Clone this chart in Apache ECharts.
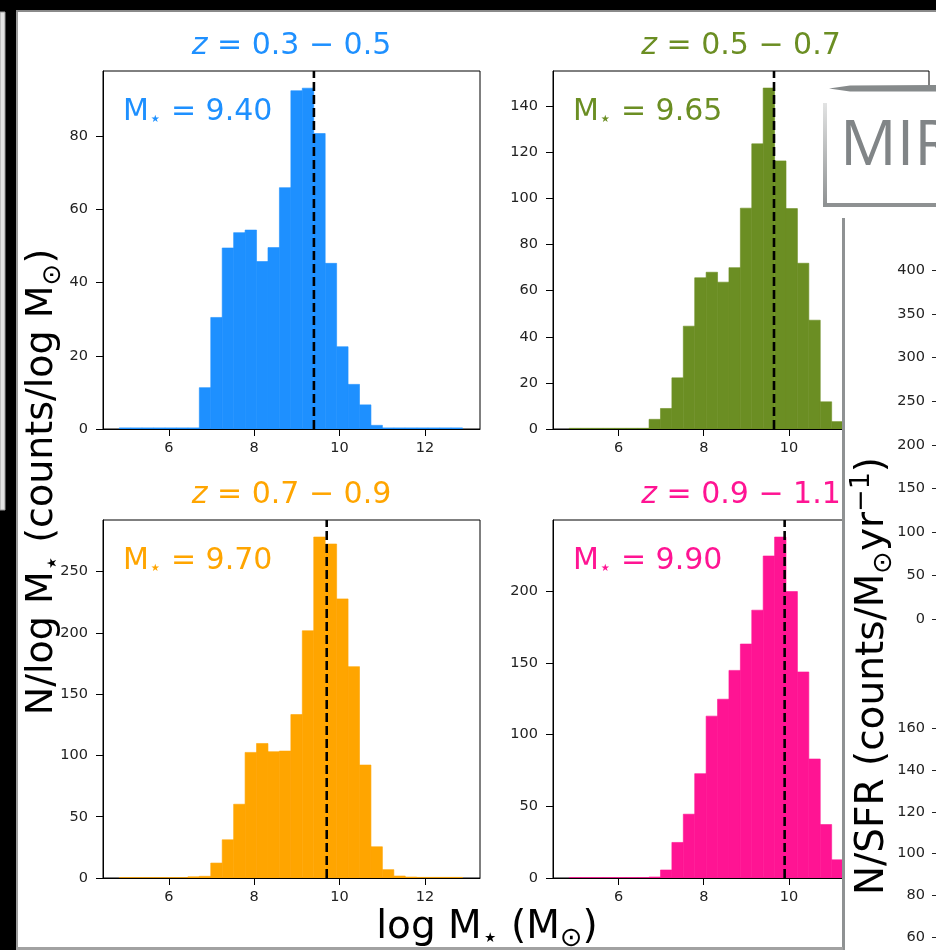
<!DOCTYPE html>
<html>
<head>
<meta charset="utf-8">
<script src="https://cdn.jsdelivr.net/npm/echarts@6/dist/echarts.min.js"></script>
<style>
  html, body { margin: 0; padding: 0; background: #ffffff; }
  #chart { width: 936px; height: 950px; }
</style>
</head>
<body>
<div id="chart"></div>
<script>
// Histogram bin edges in log stellar mass (30 bins)
const binEdges = [4.840, 5.108, 5.376, 5.644, 5.912, 6.180, 6.448, 6.716, 6.984, 7.252,
                  7.520, 7.788, 8.056, 8.324, 8.592, 8.860, 9.128, 9.396, 9.664, 9.932,
                  10.200, 10.468, 10.736, 11.004, 11.272, 11.540, 11.808, 12.076, 12.344, 12.612, 12.880];

// Counts per bin for each redshift slice
const countsZ03 = [0.3, 0.3, 0.3, 0.3, 0.3, 0.3, 0.3, 11.3, 30.5, 49.5,
                   53.7, 54.4, 45.8, 49.6, 66.0, 92.5, 93.2, 80.8, 45.3, 22.5,
                   12.2, 6.6, 1.0, 0.3, 0.3, 0.3, 0.3, 0.3, 0.3, 0.3];
const countsZ05 = [0.3, 0.3, 0.3, 0.3, 0.3, 0.3, 0.3, 4.2, 8.9, 22.2,
                   44.6, 65.6, 68.0, 63.7, 70.0, 95.8, 123.7, 147.9, 116.3, 95.6,
                   71.9, 47.2, 11.8, 3.2, 1.0, 0.5, 0.3, 0.3, 0.3, 0.3];
const countsZ07 = [0.3, 0.3, 0.3, 0.3, 0.3, 0.3, 1.0, 1.4, 12.2, 31.2,
                   60.2, 102.5, 109.8, 103.1, 103.6, 133.4, 201.8, 278.3, 272.6, 227.8,
                   172.5, 92.2, 25.5, 6.8, 1.6, 0.8, 0.5, 0.5, 0.5, 0.5];
const countsZ09 = [0.3, 0.3, 0.3, 0.3, 0.3, 0.3, 0.3, 0.7, 5.6, 24.8,
                   44.5, 72.8, 112.9, 124.7, 144.8, 163.2, 186.8, 224.6, 237.8, 199.8,
                   143.7, 83.0, 37.3, 12.7, 4.0, 1.2, 0.3, 0.3, 0.3, 0.3];

// Median stellar mass per slice
const medianMass = [9.40, 9.65, 9.70, 9.90];
const zLow = ['0.3', '0.5', '0.7', '0.9'];
const zHigh = ['0.5', '0.7', '0.9', '1.1'];

// Tick labels
const massTicks = [6, 8, 10, 12];
const countTicks = [
  [0, 20, 40, 60, 80],
  [0, 20, 40, 60, 80, 100, 120, 140],
  [0, 50, 100, 150, 200, 250],
  [0, 50, 100, 150, 200]
];
const countMax = [97.9, 155.3, 292.2, 249.7];
const sfrTicksUpper = [0, 50, 100, 150, 200, 250, 300, 350, 400];
const sfrTicksLower = [60, 80, 100, 120, 140, 160];

const FONT = 'DejaVu Sans';
const TICK_COLOR = '#222222';
const colors = ['#1E90FF', '#6B8E23', '#FFA500', '#FF1493'];
const counts = [countsZ03, countsZ05, countsZ07, countsZ09];

const panelBoxes = [
  { left: 103, top: 71, width: 377, height: 358 },
  { left: 553, top: 71, width: 376, height: 358 },
  { left: 103, top: 520, width: 377, height: 358 },
  { left: 553, top: 520, width: 376, height: 358 }
];
const sfrBoxes = [
  { left: 937, top: 270.5, width: 200, height: 348.8 },
  { left: 937, top: 728.3, width: 200, height: 209 }
];

function histItem(color) {
  return function (params, api) {
    const lo = api.value(0), hi = api.value(1), n = api.value(2);
    const pTop = api.coord([lo, n]);
    const pBot = api.coord([hi, 0]);
    return {
      type: 'rect',
      shape: { x: pTop[0], y: pTop[1], width: pBot[0] - pTop[0], height: pBot[1] - pTop[1] },
      style: { fill: color, stroke: color, lineWidth: 0.6 }
    };
  };
}

const grid = [], xAxis = [], yAxis = [], series = [], graphic = [];

panelBoxes.forEach(function (b, i) {
  grid.push(Object.assign({ show: true, borderColor: '#000', borderWidth: 1, backgroundColor: 'transparent',
    containLabel: false, outerBoundsMode: 'none' }, b));
  xAxis.push({
    type: 'value', gridIndex: i, min: 4.46, max: 13.29,
    axisLine: { show: true, onZero: false, lineStyle: { color: '#000', width: 1 } },
    axisTick: { show: true, customValues: massTicks, length: 7, lineStyle: { color: '#000', width: 1 } },
    axisLabel: { customValues: massTicks, fontFamily: FONT, fontSize: 14.5, color: TICK_COLOR, margin: 12 },
    splitLine: { show: false }
  });
  yAxis.push({
    type: 'value', gridIndex: i, min: 0, max: countMax[i],
    axisLine: { show: true, onZero: false, lineStyle: { color: '#000', width: 1 } },
    axisTick: { show: true, customValues: countTicks[i], length: 7, lineStyle: { color: '#000', width: 1 } },
    axisLabel: { customValues: countTicks[i], fontFamily: FONT, fontSize: 14.5, color: TICK_COLOR, margin: 15 },
    splitLine: { show: false }
  });
  series.push({
    type: 'custom', xAxisIndex: i, yAxisIndex: i, clip: true, silent: true,
    renderItem: histItem(colors[i]),
    encode: { x: [0, 1], y: 2 },
    data: counts[i].map(function (c, k) { return [binEdges[k], binEdges[k + 1], c]; }),
    z: 2
  });
  series.push({
    type: 'line', xAxisIndex: i, yAxisIndex: i, silent: true, symbol: 'none',
    data: [[medianMass[i], 0], [medianMass[i], countMax[i]]],
    lineStyle: { color: '#000', width: 2.6, type: [9, 4] },
    z: 5
  });

  const cx = b.left + b.width / 2;
  // slice title
  graphic.push({
    type: 'text', x: cx, y: b.top - 25, z: 10,
    style: {
      text: '{i|z}{r| = ' + zLow[i] + ' − ' + zHigh[i] + '}',
      align: 'center', verticalAlign: 'middle',
      rich: {
        i: { fontFamily: FONT, fontSize: 30, fontStyle: 'italic', fill: colors[i] },
        r: { fontFamily: FONT, fontSize: 30, fill: colors[i] }
      }
    }
  });
  // median label
  graphic.push({
    type: 'text', x: b.left + 20, y: b.top + 41, z: 10,
    style: {
      text: '{m|M}{s|⋆}{m| = ' + medianMass[i].toFixed(2) + '}',
      align: 'left', verticalAlign: 'middle',
      rich: {
        m: { fontFamily: FONT, fontSize: 30, lineHeight: 36, fill: colors[i] },
        s: { fontFamily: FONT, fontSize: 20, lineHeight: 20, verticalAlign: 'bottom', fill: colors[i] }
      }
    }
  });
});

// axes of the neighbouring SFR panel
sfrBoxes.forEach(function (b, j) {
  const gi = panelBoxes.length + j;
  const ticks = j === 0 ? sfrTicksUpper : sfrTicksLower;
  grid.push(Object.assign({ show: false, containLabel: false, outerBoundsMode: 'none', zlevel: 2 }, b));
  xAxis.push({ type: 'value', gridIndex: gi, show: false, min: 0, max: 1 });
  yAxis.push({
    type: 'value', gridIndex: gi, zlevel: 2, z: 10,
    min: ticks[0], max: ticks[ticks.length - 1],
    axisLine: { show: false },
    axisTick: { show: true, customValues: ticks, length: 5, lineStyle: { color: '#222', width: 1 } },
    axisLabel: { customValues: ticks, fontFamily: FONT, fontSize: 14.5, color: TICK_COLOR, margin: 12 },
    splitLine: { show: false }
  });
});

const subRich = function (size, color) {
  return {
    n: { fontFamily: FONT, fontSize: size, lineHeight: Math.round(size * 1.25), fill: color },
    s: { fontFamily: FONT, fontSize: Math.round(size * 0.68), lineHeight: Math.round(size * 0.68), verticalAlign: 'bottom', fill: color },
    u: { fontFamily: FONT, fontSize: Math.round(size * 0.68), lineHeight: Math.round(size * 0.68), verticalAlign: 'top', fill: color }
  };
};

// shared axis titles
graphic.push({
  type: 'text', x: 42, y: 482, rotation: Math.PI / 2, z: 20,
  style: {
    text: '{n|N/log M}{s|⋆}{n| (counts/log M}{s|⊙}{n|)}',
    align: 'center', verticalAlign: 'middle', rich: subRich(38, '#000')
  }
});
graphic.push({
  type: 'text', x: 487, y: 928, z: 20,
  style: {
    text: '{n|log M}{s|⋆}{n| (M}{s|⊙}{n|)}',
    align: 'center', verticalAlign: 'middle', rich: subRich(39, '#000')
  }
});

// overlapping slide: MIR header box and the SFR panel column
const overlay = [
  { type: 'rect', shape: { x: 825, y: 89, width: 111, height: 118 }, style: { fill: '#ffffff' } },
  { type: 'rect', shape: { x: 843, y: 205, width: 93, height: 745 }, style: { fill: '#ffffff' } },
  { type: 'polygon', shape: { points: [[829, 88.5], [850, 85.5], [936, 85], [936, 91.5], [850, 91.5]] }, style: { fill: '#868a8b' } },
  { type: 'rect', shape: { x: 823, y: 103, width: 4, height: 104 },
    style: { fill: { type: 'linear', x: 0, y: 0, x2: 0, y2: 1, colorStops: [{ offset: 0, color: '#e2e3e3' }, { offset: 1, color: '#8d9091' }] } } },
  { type: 'rect', shape: { x: 823, y: 203, width: 113, height: 4 }, style: { fill: '#8e9192' } },
  { type: 'text', x: 840, y: 147, style: { text: 'MIR', fontFamily: 'Open Sans', fontSize: 63, fill: '#818587', align: 'left', verticalAlign: 'middle' } },
  { type: 'rect', shape: { x: 842, y: 218, width: 3, height: 732 }, style: { fill: '#8f9293' } },
  // screen frame
  { type: 'rect', shape: { x: 0, y: 0, width: 16, height: 950 }, style: { fill: '#000000' } },
  { type: 'rect', shape: { x: 0, y: 12, width: 5, height: 498 }, style: { fill: '#e4e4e4', stroke: '#9a9a9a', lineWidth: 1 } },
  { type: 'rect', shape: { x: 16, y: 10, width: 2, height: 940 }, style: { fill: '#9c9c9c' } },
  { type: 'rect', shape: { x: 0, y: 0, width: 936, height: 10 }, style: { fill: '#000000' } },
  { type: 'rect', shape: { x: 16, y: 10, width: 920, height: 2 }, style: { fill: '#8a8a8a' } },
  { type: 'rect', shape: { x: 16, y: 947, width: 827, height: 3 }, style: { fill: '#a2a2a2' } }
];
overlay.forEach(function (el) { el.zlevel = 1; el.silent = true; graphic.push(el); });

graphic.push({
  type: 'text', x: 873, y: 676, rotation: Math.PI / 2, zlevel: 2, z: 20,
  style: {
    text: '{n|N/SFR (counts/M}{s|⊙}{n|yr}{u|−1}{n|)}',
    align: 'center', verticalAlign: 'middle', rich: subRich(39, '#000')
  }
});

const chart = echarts.init(document.getElementById('chart'), null, { renderer: 'canvas' });
chart.setOption({
  animation: false,
  backgroundColor: '#ffffff',
  grid: grid,
  xAxis: xAxis,
  yAxis: yAxis,
  series: series,
  graphic: graphic
});
</script>
</body>
</html>
